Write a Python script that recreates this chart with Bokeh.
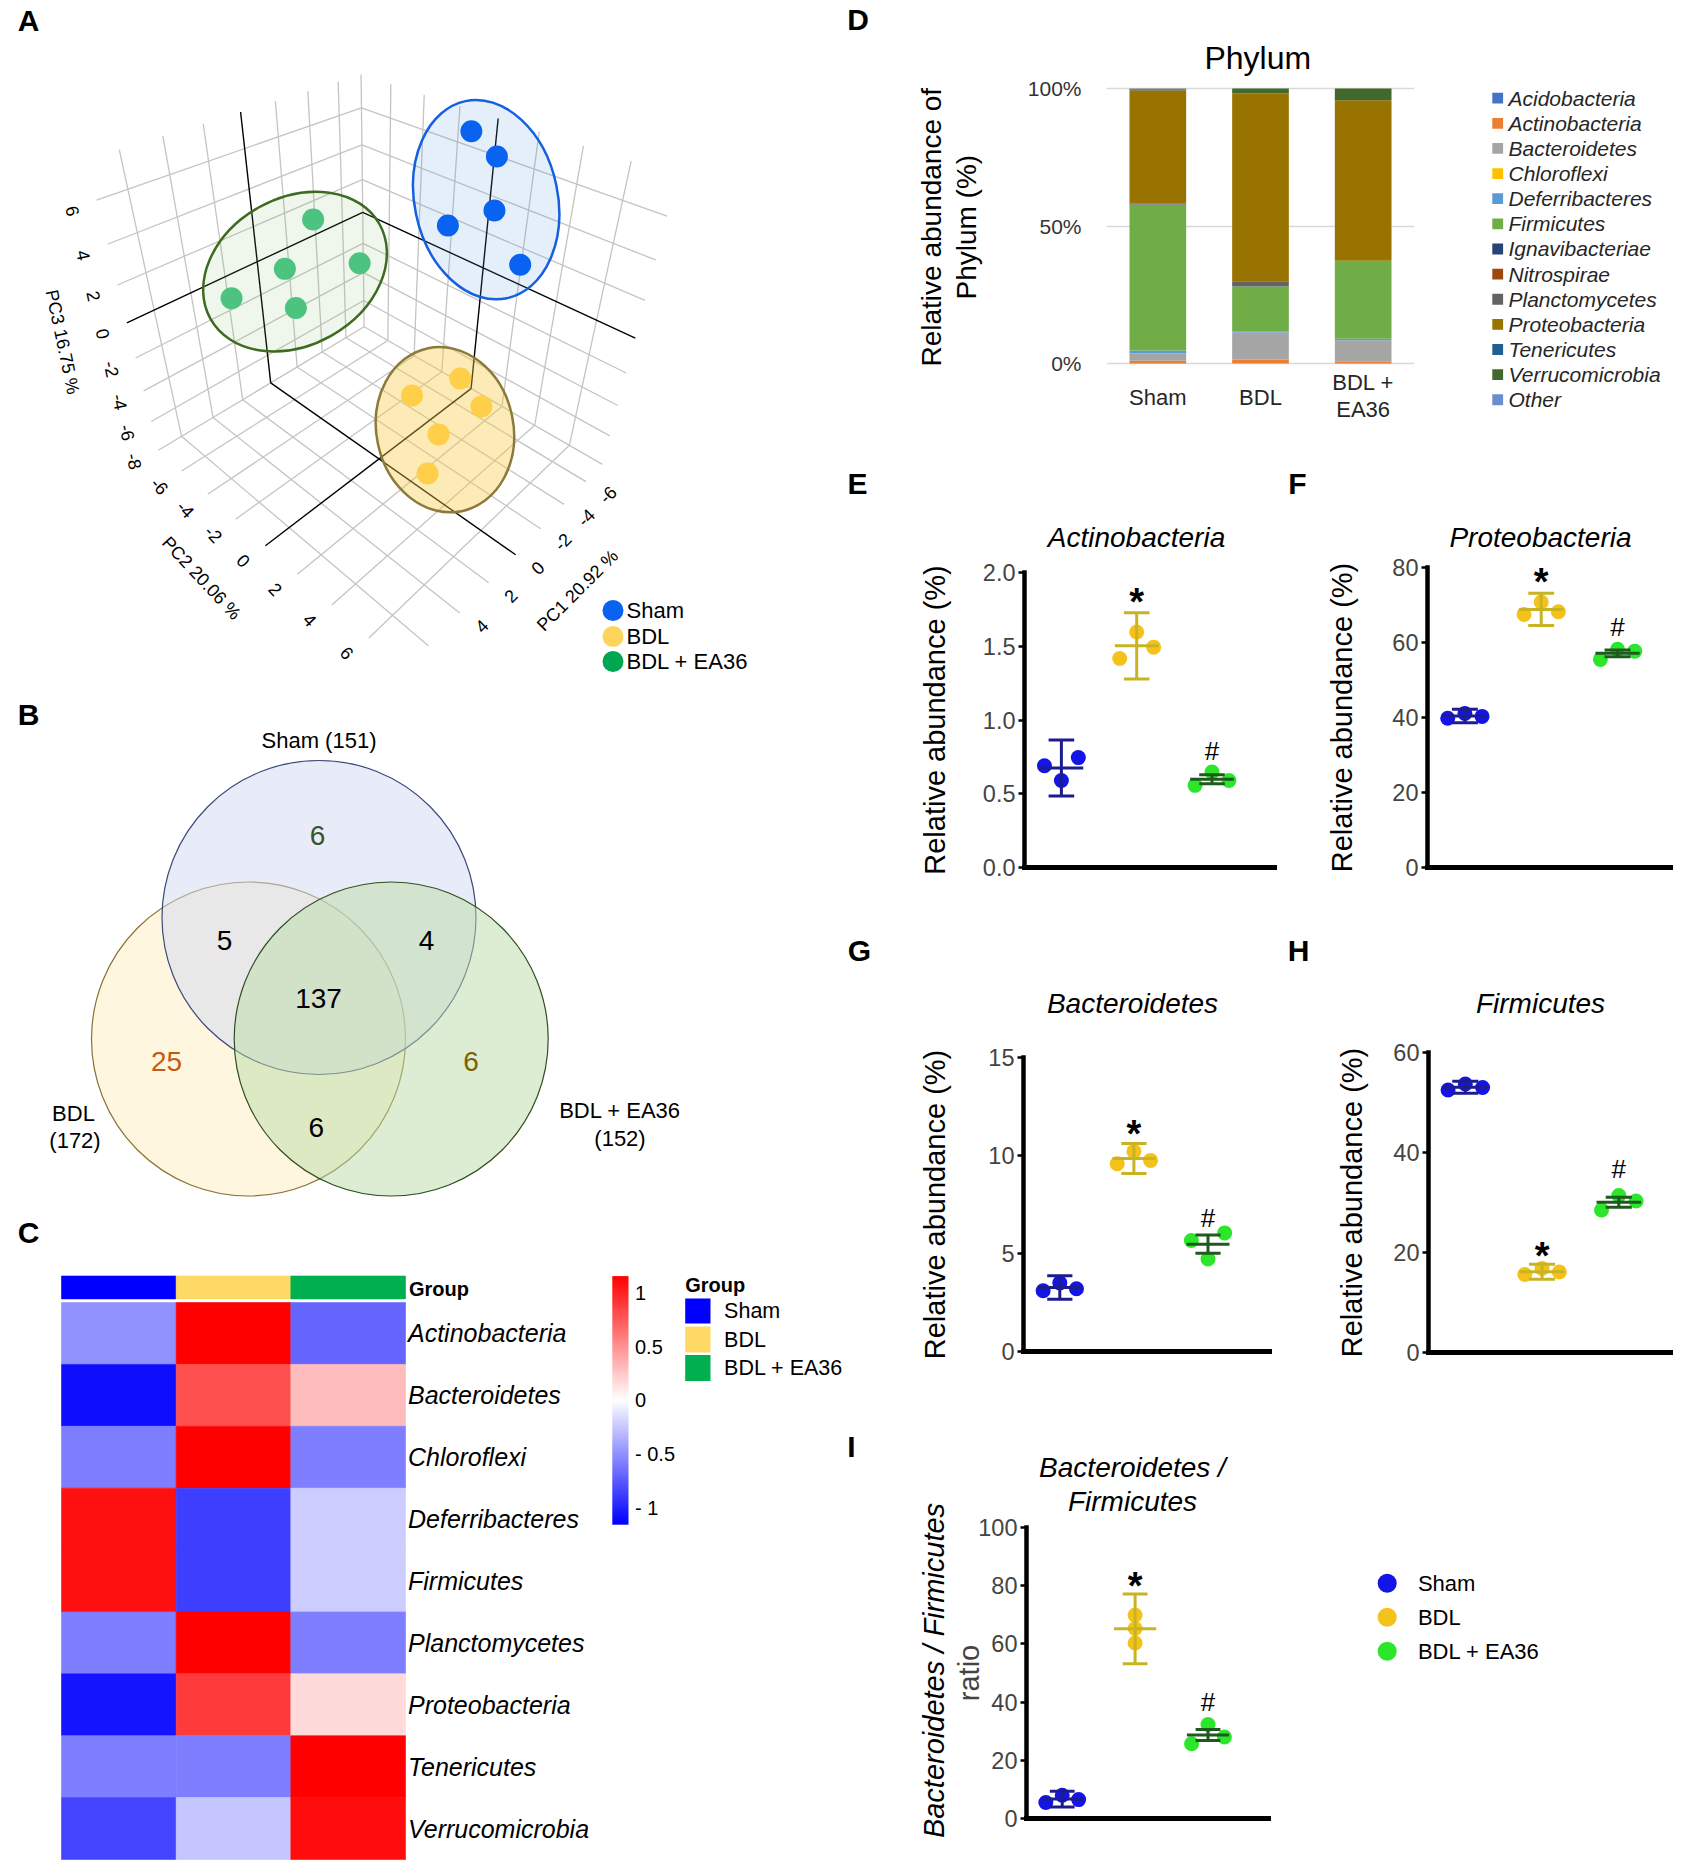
import numpy as np
from bokeh.plotting import figure
from bokeh.layouts import row, column
from bokeh.models import (Range1d, Label, FixedTicker, LinearColorMapper,
                          ColumnDataSource, PrintfTickFormatter)
from bokeh.embed import file_html
from bokeh.resources import INLINE
from bokeh.core.properties import value

FONT = "Liberation Sans"

# ======================= DATA =======================
GROUPS = ["Sham", "BDL", "BDL + EA36"]

# Panel A: PCA scores (PC1, PC2, PC3) of the five animals per group
PCA_SHAM_1 = [-6.55, -5.88, -3.94, -2.96, -2.76]
PCA_SHAM_2 = [-0.59, 1.20, 2.55, 1.07, 4.64]
PCA_SHAM_3 = [7.23, 6.84, 5.52, 4.60, 4.40]
PCA_BDL_1 = [-1.08, 1.30, -1.34, 1.41, 2.89]
PCA_BDL_2 = [3.53, 2.89, 4.52, 4.38, 5.03]
PCA_BDL_3 = [-1.11, -1.01, -2.23, -2.09, -2.76]
PCA_EA_1 = [0.34, 2.79, -0.92, 4.61, 2.58]
PCA_EA_2 = [-3.38, -2.57, -1.95, -3.91, -2.33]
PCA_EA_3 = [4.32, 3.28, 2.24, 2.01, 1.34]
PC_TITLES = ["PC1 20.92 %", "PC2 20.06 %", "PC3 16.75 %"]
PC1_GRID = [-6, -4, -2, 0, 2, 4, 6]
PC1_TICKLABELS = [-6, -4, -2, 0, 2, 4]
PC2_GRID = [-6, -4, -2, 0, 2, 4, 6]
PC3_GRID = [-8, -6, -4, -2, 0, 2, 4, 6]

# Panel B (Venn)
VENN_SETS = [151, 172, 152]
VENN_COUNTS = [6, 5, 4, 137, 25, 6, 6]  # Sham only, Sham&BDL, Sham&EA36, all, BDL only, EA36 only, BDL&EA36

# Panel C (heatmap, row z-scores)
HM_PHYLA = ["Actinobacteria", "Bacteroidetes", "Chloroflexi", "Deferribacteres", "Firmicutes",
            "Planctomycetes", "Proteobacteria", "Tenericutes", "Verrucomicrobia"]
HM_SHAM = [-0.49, -1.09, -0.58, 1.08, 1.08, -0.58, -1.06, -0.58, -0.84]
HM_BDL = [1.155, 0.79, 1.155, -0.87, -0.87, 1.155, 0.89, -0.58, -0.26]
HM_EA36 = [-0.69, 0.30, -0.58, -0.23, -0.23, -0.58, 0.17, 1.155, 1.10]
HM_TICKS = [1, 0.5, 0, -0.5, -1]
HM_TICK_LABELS = ["1", "0.5", "0", "- 0.5", "- 1"]

# Panel D (stacked relative abundance, %)
PHYLA = ["Acidobacteria", "Actinobacteria", "Bacteroidetes", "Chloroflexi", "Deferribacteres",
         "Firmicutes", "Ignavibacteriae", "Nitrospirae", "Planctomycetes", "Proteobacteria",
         "Tenericutes", "Verrucomicrobia", "Other"]
AB_SHAM = [0.1, 0.9, 2.7, 0.05, 1.0, 53.0, 0.05, 0.05, 0.2, 41.3, 0.3, 0.3, 0.05]
AB_BDL = [0.0, 1.5, 9.8, 0.0, 0.4, 16.3, 0.0, 0.0, 1.9, 68.3, 0.0, 1.8, 0.0]
AB_EA36 = [0.0, 0.6, 7.9, 0.0, 0.5, 28.4, 0.0, 0.0, 0.0, 58.3, 0.0, 4.3, 0.0]
D_TICKS = [0, 50, 100]
D_XLABELS = [["Sham"], ["BDL"], ["BDL +", "EA36"]]

# Panels E-I (three animals per group; error = bar half length; marks = * and # heights)
ACT_SHAM = [0.69, 0.59, 0.745]; ACT_BDL = [1.417, 1.597, 1.494]; ACT_EA = [0.557, 0.647, 0.59]
ACT_ERR = [0.19, 0.225, 0.03]; ACT_MARK = [1.866, 0.793]
PRO_SHAM = [39.8, 41.1, 40.3]; PRO_BDL = [67.5, 70.8, 68.2]; PRO_EA = [55.5, 58.2, 57.7]
PRO_ERR = [1.8, 4.3, 0.9]; PRO_MARK = [78.8, 64.2]
BAC_SHAM = [3.1, 3.5, 3.2]; BAC_BDL = [9.58, 10.21, 9.75]; BAC_EA = [5.66, 4.72, 6.05]
BAC_ERR = [0.6, 0.77, 0.47]; BAC_MARK = [11.6, 6.8]
FIR_SHAM = [52.5, 53.7, 53.0]; FIR_BDL = [15.6, 16.8, 16.1]; FIR_EA = [28.5, 31.4, 30.3]
FIR_ERR = [1.2, 1.5, 1.0]; FIR_MARK = [21.4, 36.7]
RAT_SHAM = [5.5, 8.0, 6.5]; RAT_BDL = [69.9, 65.3, 60.3]; RAT_EA = [25.7, 32.3, 28.0]
RAT_ERR = [2.7, 12.0, 1.9]; RAT_MARK = [83.4, 40.0]

# ======================= STYLE =======================
A_PT = ["#0A62F0", "#FFCF4A", "#4CC47F"]
A_LEG = ["#0A62F0", "#FFD45C", "#00A651"]
A_ELL_LINE = ["#1560E0", "#8C7A3A", "#3D6B1F"]
A_ELL_FILL = ["#5B9BE0", "#F8C842", "#7DBB6A"]
A_ELL_ALPHA = [0.16, 0.38, 0.12]
A_ELL_PAD = [46, 44, 46]
A_ELL_SHIFT = [(0, 2), (1, 12), (-2, 0)]
A_ELL_ROT = [0.0, 35.0, 0.0]
PHYLA_COLORS = ["#4472C4", "#ED7D31", "#A5A5A5", "#FFC000", "#5B9BD5", "#70AD47", "#264478",
                "#9E480E", "#636363", "#997300", "#255E91", "#43682B", "#698ED0"]
PT_COL = ["#1414E8", "#F5C21B", "#2CE62C"]
BAR_COL = ["#1C1C8C", "#C8B423", "#1E5A1E"]
GRP_COL = ["#0000FF", "#FFD966", "#00B050"]
LETTER = 30
TICK_FS = "23.5px"


def make_fig(box, frame, xr, yr, axes=False):
    X0, Y0, X1, Y1 = box
    FX0, FY0, FX1, FY1 = frame
    kw = dict(width=X1 - X0, height=Y1 - Y0, x_range=Range1d(*xr), y_range=Range1d(*yr),
              output_backend="svg", toolbar_location=None, title=None, frame_align=False,
              min_border_left=FX0 - X0, min_border_right=X1 - FX1,
              min_border_top=FY0 - Y0, min_border_bottom=Y1 - FY1)
    if not axes:
        kw.update(x_axis_location=None, y_axis_location=None)
    p = figure(**kw)
    p.grid.visible = False
    p.outline_line_color = None
    p.background_fill_color = "white"
    p.border_fill_color = "white"

    def cx(X):
        return xr[0] + (X - FX0) / (FX1 - FX0) * (xr[1] - xr[0])

    def cy(Y):
        return yr[0] + (FY1 - Y) / (FY1 - FY0) * (yr[1] - yr[0])
    return p, cx, cy


def strip(box):
    X0, Y0, X1, Y1 = box
    p, _, _ = make_fig(box, box, (X0, X1), (-Y1, -Y0))
    return p


def lab(p, x, y, text, size, style="normal", color="black", align="center",
        baseline="middle", angle=0.0):
    p.add_layout(Label(x=x, y=y, text=text, text_font=FONT, text_font_size=f"{size}px",
                       text_font_style=style, text_color=color, text_align=align,
                       text_baseline=baseline, angle=angle))


def tl(p, X, Y, text, size, style="normal", color="black", align="center", angle=0.0):
    lab(p, X, -Y, text, size, style, color, align, "middle", angle)


# ======================= PANEL A =======================
R1 = (-7.6, 7.4); R2 = (-7.9, 7.8); R3 = (-8.0, 7.7)
CAM_PAIRS = [
    ((R1[0], R2[0], 6), (357.5, 110)), ((R1[0], R2[0], 0), (360, 217)),
    ((R1[0], R2[0], R3[0]), (358, 327)), ((0, R2[0], 0), (255.5, 263)),
    ((0, R2[0], R3[1]), (241, 109.5)), ((0, R2[0], R3[0]), (266, 375.5)),
    ((R1[0], 0, 0), (483, 274)), ((R1[0], 0, R3[1]), (499, 115)),
    ((R1[0], 0, R3[0]), (471, 387)), ((0, R2[1], R3[0]), (515, 552)),
    ((R1[1], 0, R3[0]), (258.5, 538.5)), ((0, 0, R3[0]), (377, 455)),
    ((R1[1], R2[0], 0), (124, 322)), ((R1[0], R2[1], 0), (637, 344)),
    ((6, R2[0], R3[1]), (119, 148)), ((-6, R2[0], R3[1]), (341, 78.3)),
    ((R1[0], -6, R3[1]), (397, 85)), ((R1[0], 6, R3[1]), (622, 155)),
    ((6, R2[0], R3[0]), (173.3, 428.3)), ((-6, R2[0], R3[0]), (349.3, 333.3)),
    ((R1[1], -6, R3[0]), (203.3, 491.7)), ((-6, R2[1], R3[0]), (593, 481)),
    ((4, R2[1], R3[0]), (453, 613)),
]


def fit_camera(pairs):
    X3 = np.array([q[0] for q in pairs], float)
    uv = np.array([q[1] for q in pairs], float)
    m3 = X3.mean(0); s3 = np.sqrt(((X3 - m3) ** 2).sum(1).mean() / 3.0)
    m2 = uv.mean(0); s2 = np.sqrt(((uv - m2) ** 2).sum(1).mean() / 2.0)
    T3 = np.eye(4); T3[:3, :3] /= s3; T3[:3, 3] = -m3 / s3
    T2 = np.eye(3); T2[:2, :2] /= s2; T2[:2, 2] = -m2 / s2
    Xh = (T3 @ np.c_[X3, np.ones(len(X3))].T).T
    uh = (T2 @ np.c_[uv, np.ones(len(uv))].T).T
    rows_ = []
    for Xi, ui in zip(Xh, uh):
        rows_.append(np.r_[Xi, np.zeros(4), -ui[0] * Xi])
        rows_.append(np.r_[np.zeros(4), Xi, -ui[1] * Xi])
    _, _, Vt = np.linalg.svd(np.array(rows_))
    return np.linalg.inv(T2) @ Vt[-1].reshape(3, 4) @ T3


def project(P, pts):
    pts = np.atleast_2d(np.asarray(pts, float))
    h = P @ np.c_[pts, np.ones(len(pts))].T
    return h[0] / h[2], h[1] / h[2]


P = fit_camera(CAM_PAIRS)
pA = strip((0, 0, 846, 697))


def seg3(p, segs, color, width):
    xs, ys = [], []
    for s0, s1 in segs:
        X, Y = project(P, [s0, s1])
        xs.append(list(X)); ys.append(list(-Y))
    p.multi_line(xs=xs, ys=ys, line_color=color, line_width=width)


gray, black = [], []
for v in PC1_GRID:
    (black if v == 0 else gray).append(((v, R2[0], R3[0]), (v, R2[0], R3[1])))
    (black if v == 0 else gray).append(((v, R2[0], R3[0]), (v, R2[1], R3[0])))
for v in PC2_GRID:
    (black if v == 0 else gray).append(((R1[0], v, R3[0]), (R1[0], v, R3[1])))
    (black if v == 0 else gray).append(((R1[0], v, R3[0]), (R1[1], v, R3[0])))
for z in PC3_GRID:
    (black if z == 0 else gray).append(((R1[0], R2[0], z), (R1[1], R2[0], z)))
    (black if z == 0 else gray).append(((R1[0], R2[0], z), (R1[0], R2[1], z)))
gray.append(((R1[0], R2[0], R3[0]), (R1[0], R2[0], R3[1])))
seg3(pA, gray, "#C4C4C4", 1.3)
seg3(pA, black, "black", 1.4)

pca = [(PCA_SHAM_1, PCA_SHAM_2, PCA_SHAM_3), (PCA_BDL_1, PCA_BDL_2, PCA_BDL_3),
       (PCA_EA_1, PCA_EA_2, PCA_EA_3)]
for g, (c1, c2, c3) in enumerate(pca):
    X, Y = project(P, np.c_[c1, c2, c3])
    pxy = np.c_[X, -Y]
    c = pxy.mean(0)
    w, V = np.linalg.eigh(np.cov(pxy.T))
    a = np.sqrt(w[1]) + A_ELL_PAD[g]; b = np.sqrt(w[0]) + A_ELL_PAD[g]
    ang = float(np.arctan2(V[1, 1], V[0, 1])) + np.deg2rad(A_ELL_ROT[g])
    pA.ellipse(x=[c[0] + A_ELL_SHIFT[g][0]], y=[c[1] - A_ELL_SHIFT[g][1]], width=[2 * a],
               height=[2 * b], angle=[ang], fill_color=A_ELL_FILL[g], fill_alpha=A_ELL_ALPHA[g],
               line_color=A_ELL_LINE[g], line_width=2.5)
    pA.scatter(x=list(X), y=list(-Y), size=22, fill_color=A_PT[g], line_color=None)

OFF3 = (-24, 11); OFF2 = (-22, 15); OFF1 = (22, 13)
ANG1 = np.deg2rad(45); ANG2 = np.deg2rad(-47); ANG3 = np.deg2rad(-78)
for z in PC3_GRID:
    X, Y = project(P, [(R1[1], R2[0], z)])
    tl(pA, X[0] + OFF3[0], Y[0] + OFF3[1], str(z), 18, angle=ANG3)
for v in PC2_GRID:
    X, Y = project(P, [(R1[1], v, R3[0])])
    tl(pA, X[0] + OFF2[0], Y[0] + OFF2[1], str(v), 18, angle=ANG2)
for v in PC1_TICKLABELS:
    X, Y = project(P, [(v, R2[1], R3[0])])
    tl(pA, X[0] + OFF1[0], Y[0] + OFF1[1], str(v), 18, angle=ANG1)
tl(pA, 577, 590, PC_TITLES[0], 18, angle=ANG1)
tl(pA, 201, 577.7, PC_TITLES[1], 18, angle=ANG2)
tl(pA, 62, 341.5, PC_TITLES[2], 18, angle=ANG3)
pA.scatter(x=[612.5] * 3, y=[-610, -636, -661], size=21, fill_color=A_LEG, line_color=None)
pA.text(x=[626] * 3, y=[-610, -636, -661], text=GROUPS, text_font=value(FONT),
        text_font_size="22px", text_align="left", text_baseline="middle", text_color="black")
tl(pA, 28, 20, "A", LETTER, "bold")

# ======================= PANEL B =======================
pB = strip((0, 697, 846, 1205))
VR = 157
circ = [((248, 1038.5), "#FFEDBF", "#8A7035"), ((318.5, 917), "#D1D9F1", "#3A4A7A"),
        ((390.7, 1038.5), "#BBDBA7", "#2F4F1F")]
for (cxv, cyv), fc, lc in circ:
    pB.ellipse(x=[cxv], y=[-cyv], width=[2 * VR], height=[2 * VR], fill_color=fc,
               fill_alpha=0.5, line_color=lc, line_width=1.2)
VPOS = [(317, 834.5), (224, 939.7), (426, 939.7), (318, 998), (166, 1061), (470.5, 1061), (315.7, 1126.6)]
VCOL = ["#375623", "black", "black", "black", "#C55A11", "#7F6000", "black"]
pB.text(x=[q[0] for q in VPOS], y=[-q[1] for q in VPOS], text=[str(n) for n in VENN_COUNTS],
        text_color=VCOL, text_font=value(FONT), text_font_size="28px", text_align="center",
        text_baseline="middle")
tl(pB, 318.5, 740, f"{GROUPS[0]} ({VENN_SETS[0]})", 22)
tl(pB, 73, 1113, GROUPS[1], 22)
tl(pB, 74.5, 1140, f"({VENN_SETS[1]})", 22)
tl(pB, 619.5, 1110, GROUPS[2], 22)
tl(pB, 619.5, 1138, f"({VENN_SETS[2]})", 22)
tl(pB, 28, 714, "B", LETTER, "bold")

# ======================= PANEL C =======================
HM_L, HM_R, HM_T, HM_B = 61, 405, 1302, 1859
UX = (HM_R - HM_L) / 3.0; UY = (HM_B - HM_T) / 9.0
pC, cxC, cyC = make_fig((0, 1205, 846, 1860), (0, 1205, 846, 1860),
                        ((0 - HM_L) / UX, (846 - HM_L) / UX), ((HM_B - 1860) / UY, (HM_B - 1205) / UY))
VMAX = 1.155
pal = []
for t in np.linspace(-VMAX, VMAX, 256):
    if t < 0:
        c = int(round(255 * (1 + t / VMAX))); pal.append("#%02x%02xff" % (c, c))
    else:
        c = int(round(255 * (1 - t / VMAX))); pal.append("#ff%02x%02x" % (c, c))
mapper = LinearColorMapper(palette=pal, low=-VMAX, high=VMAX)
hx, hy, hv = [], [], []
for gi, col in enumerate([HM_SHAM, HM_BDL, HM_EA36]):
    for ri, v in enumerate(col):
        hx.append(gi + 0.5); hy.append(8 - ri + 0.5); hv.append(v)
srcC = ColumnDataSource(dict(x=hx, y=hy, v=hv))
pC.rect(x="x", y="y", width=1, height=1, source=srcC,
        fill_color={"field": "v", "transform": mapper},
        line_color={"field": "v", "transform": mapper}, line_width=0.6)
gb0, gb1 = cyC(1298.4), cyC(1275.5)
pC.rect(x=[0.5, 1.5, 2.5], y=[(gb0 + gb1) / 2] * 3, width=1, height=gb1 - gb0,
        fill_color=GRP_COL, line_color=GRP_COL, line_width=0.6)
pC.text(x=[cxC(407.5)] * 9, y=[8 - i + 0.5 for i in range(9)], text=HM_PHYLA,
        text_font=value(FONT), text_font_size="25px", text_font_style="italic",
        text_align="left", text_baseline="middle", text_color="black")
lab(pC, cxC(408.5), cyC(1288.5), "Group", 20, "bold", align="left")
cb_y0, cb_y1 = cyC(1524.2), cyC(1275.6)
cb_x0, cb_x1 = cxC(611.8), cxC(628)
grad = np.linspace(-VMAX, VMAX, 256).reshape(256, 1)
pC.image(image=[grad], x=cb_x0, y=cb_y0, dw=cb_x1 - cb_x0, dh=cb_y1 - cb_y0, color_mapper=mapper)
for v, t in zip(HM_TICKS, HM_TICK_LABELS):
    yy = cb_y0 + (v + VMAX) / (2 * VMAX) * (cb_y1 - cb_y0)
    lab(pC, cxC(634.5), yy, t, 20, align="left")
lab(pC, cxC(684.7), cyC(1284), "Group", 20, "bold", align="left")
sq = [(1298, 1323), (1326, 1352), (1354.5, 1380.5)]
pC.rect(x=[cxC(697.35)] * 3, y=[(cyC(a) + cyC(b)) / 2 for a, b in sq], width=25.3 / UX,
        height=[cyC(a) - cyC(b) for a, b in sq], fill_color=GRP_COL, line_color=None)
for (a, b), g in zip(sq, GROUPS):
    lab(pC, cxC(723.6), cyC((a + b) / 2), g, 21.5, align="left")
lab(pC, cxC(28), cyC(1232), "C", LETTER, "bold")

# ======================= PANEL D =======================
D_Y100, D_Y0 = 88, 363
D_PPU = (D_Y0 - D_Y100) / 100.0
pD, cxD, cyD = make_fig((990, 0, 1460, 462), (1106, 0, 1414, 462), (0.5, 3.5),
                        ((D_Y0 - 462) / D_PPU, D_Y0 / D_PPU), axes=True)
srcD = ColumnDataSource(dict(x=[1, 2, 3], **{n: [AB_SHAM[i], AB_BDL[i], AB_EA36[i]] for i, n in enumerate(PHYLA)}))
pD.vbar_stack(PHYLA, x="x", width=0.552, fill_color=PHYLA_COLORS, line_color=None, source=srcD)
pD.xaxis.visible = False
pD.yaxis.ticker = FixedTicker(ticks=D_TICKS)
pD.yaxis.major_label_overrides = {t: f"{t}%" for t in D_TICKS}
pD.yaxis.axis_line_color = None
pD.yaxis.major_tick_line_color = None
pD.yaxis.minor_tick_line_color = None
pD.yaxis.major_label_standoff = 19
pD.yaxis.major_label_text_font = FONT
pD.yaxis.major_label_text_font_size = "21px"
pD.yaxis.major_label_text_color = "#333333"
pD.ygrid.visible = True
pD.ygrid.ticker = FixedTicker(ticks=D_TICKS)
pD.ygrid.grid_line_color = "#D9D9D9"
pD.ygrid.grid_line_width = 1.5
lab(pD, cxD(1257.3), cyD(57.8), "Phylum", 32)
for i, lines in enumerate(D_XLABELS):
    for j, t in enumerate(lines):
        yc = 396.7 if len(lines) == 1 else (381.7 + 27.3 * j)
        lab(pD, i + 1, cyD(yc), t, 22, color="#262626")

pDl = strip((846, 0, 990, 462))
tl(pDl, 857.5, 19, "D", LETTER, "bold")
tl(pDl, 931, 226.7, "Relative abundance of", 28, angle=np.pi / 2)
tl(pDl, 966, 226.7, "Phylum (%)", 28, angle=np.pi / 2)
pDg = strip((1460, 0, 1673, 462))
LEG_Y0, LEG_DY = 97.7, 25.13
pDg.rect(x=[1497.2] * len(PHYLA), y=[-(LEG_Y0 + LEG_DY * i) for i in range(len(PHYLA))],
         width=10.8, height=10.8, fill_color=PHYLA_COLORS, line_color=None)
pDg.text(x=[1508] * len(PHYLA), y=[-(LEG_Y0 + LEG_DY * i) for i in range(len(PHYLA))], text=PHYLA,
         text_font=value(FONT), text_font_size="21px", text_font_style="italic",
         text_align="left", text_baseline="middle", text_color="#262626")

# ======================= PANELS E-I =======================
JIT = [-0.225, 0.0, 0.225]
JIT0 = [0.0, 0.0, 0.0]


def dot_panel(box, fx0, fx1, y0px, ytop_px, ytop, yticks, fmt, groups, errs, marks, titles,
              xr=(0.51, 3.83), jitters=(JIT, JIT, JIT), ftop=None):
    ppu = (y0px - ytop_px) / ytop
    fy0 = box[1] if ftop is None else ftop
    p, cx, cy = make_fig(box, (fx0, fy0, fx1, y0px), xr, (0, (y0px - fy0) / ppu), axes=True)
    for g, vals in enumerate(groups):
        xs = [g + 1 + j for j in jitters[g]]
        p.scatter(x=xs, y=vals, size=15, fill_color=PT_COL[g], line_color=None)
    for g, vals in enumerate(groups):
        m = float(np.mean(vals)); e = errs[g]; xc = g + 1
        p.segment(x0=[xc - 0.29, xc, xc - 0.17, xc - 0.17], x1=[xc + 0.29, xc, xc + 0.17, xc + 0.17],
                  y0=[m, m - e, m - e, m + e], y1=[m, m + e, m - e, m + e],
                  line_color=BAR_COL[g], line_width=3)
    p.text(x=[2], y=[marks[0] - 10 / ppu], text=["*"], text_font=value(FONT), text_font_size="38px",
           text_font_style="bold", text_align="center", text_baseline="middle", text_color="black")
    p.text(x=[3], y=[marks[1]], text=["#"], text_font=value(FONT), text_font_size="26px",
           text_align="center", text_baseline="middle", text_color="black")
    ya = p.yaxis
    ya.ticker = FixedTicker(ticks=yticks)
    ya.bounds = (0, ytop)
    ya.formatter = PrintfTickFormatter(format=fmt)
    ya.axis_line_width = 4.5
    ya.axis_line_cap = "square"
    ya.major_tick_line_width = 2.5
    ya.major_tick_out = 6
    ya.major_tick_in = 0
    ya.minor_tick_line_color = None
    ya.major_label_text_font = FONT
    ya.major_label_text_font_size = TICK_FS
    ya.major_label_standoff = 3
    xa = p.xaxis
    xa.ticker = FixedTicker(ticks=[])
    xa.major_label_text_font_size = "0px"
    xa.axis_line_width = 5
    xa.axis_line_cap = "square"
    xa.major_tick_line_color = None
    xa.minor_tick_line_color = None
    for (tx, ty, tt) in titles:
        lab(p, cx(tx), cy(ty), tt, 28, "italic")
    return p


def side(box, letter, lxy, ylabels):
    s = strip(box)
    tl(s, lxy[0], lxy[1], letter, LETTER, "bold")
    for (lx, ly, lt, st) in ylabels:
        tl(s, lx, ly, lt, 29, st, angle=np.pi / 2)
    return s


YL = "Relative abundance (%)"
pE = dot_panel((960, 462, 1285, 930), 1024, 1274, 867, 572, 2.0, [0, 0.5, 1.0, 1.5, 2.0], "%.1f",
               [ACT_SHAM, ACT_BDL, ACT_EA], ACT_ERR, ACT_MARK, [(1136, 537, "Actinobacteria")])
pEl = side((846, 462, 960, 930), "E", (857, 483), [(934, 719.5, YL, "normal")])
pF = dot_panel((1365, 462, 1673, 930), 1427, 1672, 867, 567, 80, [0, 20, 40, 60, 80], "%d",
               [PRO_SHAM, PRO_BDL, PRO_EA], PRO_ERR, PRO_MARK, [(1540, 537, "Proteobacteria")],
               xr=(0.51, 3.72))
pFl = side((1285, 462, 1365, 930), "F", (1297, 483), [(1341, 717, YL, "normal")])
pG = dot_panel((960, 930, 1285, 1410), 1023, 1269, 1351, 1057, 15, [0, 5, 10, 15], "%d",
               [BAC_SHAM, BAC_BDL, BAC_EA], BAC_ERR, BAC_MARK, [(1132, 1003.3, "Bacteroidetes")])
pGl = side((846, 930, 960, 1410), "G", (859, 950), [(934, 1204, YL, "normal")])
pH = dot_panel((1374, 930, 1673, 1410), 1428, 1672, 1352, 1052, 60, [0, 20, 40, 60], "%d",
               [FIR_SHAM, FIR_BDL, FIR_EA], FIR_ERR, FIR_MARK, [(1540, 1003.3, "Firmicutes")],
               xr=(0.52, 3.70))
pHl = side((1285, 930, 1374, 1410), "H", (1298, 950), [(1351.7, 1202, YL, "normal")])
pI = dot_panel((950, 1516, 1285, 1860), 1022, 1268, 1818, 1527, 100, [0, 20, 40, 60, 80, 100], "%d",
               [RAT_SHAM, RAT_BDL, RAT_EA], RAT_ERR, RAT_MARK, [], jitters=(JIT, JIT0, JIT), ftop=1527)
pI.yaxis.axis_label = "ratio"
pI.yaxis.axis_label_text_font = FONT
pI.yaxis.axis_label_text_font_size = "29px"
pI.yaxis.axis_label_text_font_style = "normal"
pI.yaxis.axis_label_standoff = -10
pIt = strip((950, 1410, 1285, 1516))
tl(pIt, 1132, 1466.7, "Bacteroidetes /", 28, "italic")
tl(pIt, 1132, 1500.5, "Firmicutes", 28, "italic")
pIl = side((846, 1410, 950, 1860), "I", (851, 1446), [(933, 1670, "Bacteroidetes / Firmicutes", "italic")])

pIL = strip((1285, 1410, 1673, 1860))
ly = [-1582.7, -1616.7, -1650.7]
pIL.scatter(x=[1386.7] * 3, y=ly, size=19, fill_color=PT_COL, line_color=None)
pIL.text(x=[1417.4] * 3, y=ly, text=GROUPS, text_font=value(FONT), text_font_size="22px",
         text_align="left", text_baseline="middle", text_color="black")

right = column(
    row(pDl, pD, pDg),
    row(pEl, pE, pFl, pF),
    row(pGl, pG, pHl, pH),
    row(pIl, column(pIt, pI), pIL),
)
layout = row(column(pA, pB, pC), right)
open("out.html", "w").write(file_html(layout, INLINE))
